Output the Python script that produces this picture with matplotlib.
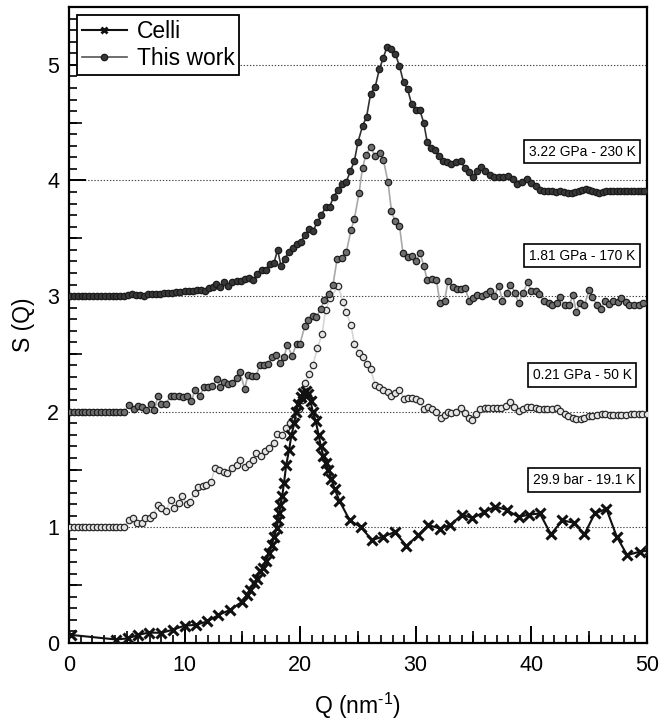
#!/usr/bin/env python3
"""
S(Q) von festem Wasserstoff: Celli-Daten und eigene Messungen,
vertikal um 1 versetzt (0.21 GPa, 1.81 GPa, 3.22 GPa).
"""

import numpy as np
import matplotlib
matplotlib.use('Agg')
import matplotlib.pyplot as plt
from matplotlib.ticker import MultipleLocator, NullLocator

plt.rcParams['font.family'] = ['Liberation Sans', 'DejaVu Sans']
plt.rcParams['mathtext.fontset'] = 'custom'
plt.rcParams['mathtext.rm'] = 'Liberation Sans'
plt.rcParams['mathtext.default'] = 'regular'

# --- Daten ---

# 3.22 GPa - 230 K (Offset 3)
q_322 = [0.1, 0.43, 0.77, 1.1, 1.43, 1.77, 2.1, 2.43, 2.77, 3.1, 3.43, 3.77, 4.1, 4.43, 4.77,
         5.1, 5.45, 5.8, 6.15, 6.5, 6.85, 7.2, 7.55, 7.9, 8.25, 8.6, 8.95, 9.3, 9.65, 10.0,
         10.35, 10.7, 11.05, 11.4, 11.75, 12.1, 12.45, 12.75, 13.1, 13.4, 13.8, 14.15, 14.5,
         14.85, 15.2, 15.6, 15.95, 16.3, 16.7, 17.05, 17.4, 17.75, 18.05, 18.35, 18.65, 19.0,
         19.35, 19.7, 20.05, 20.45, 20.8, 21.1, 21.5, 21.85, 22.2, 22.55, 22.9, 23.3, 23.65,
         24.0, 24.35, 24.7, 25.0, 25.4, 25.75, 26.1, 26.5, 26.85, 27.2, 27.5, 27.9, 28.25,
         28.6, 28.95, 29.3, 29.65, 30.0, 30.35, 30.7, 31.0, 31.35, 31.7, 32.05, 32.4, 32.75,
         33.1, 33.5, 33.9, 34.25, 34.6, 35.0, 35.3, 35.65, 36.0, 36.4, 36.8, 37.2, 37.6, 38.0,
         38.4, 38.8, 39.2, 39.6, 40.0, 40.4, 40.75, 41.1, 41.45, 41.8, 42.15, 42.5, 42.85,
         43.2, 43.5, 43.8, 44.1, 44.4, 44.7, 45.0, 45.3, 45.6, 45.9, 46.2, 46.5, 46.8, 47.1,
         47.4, 47.7, 48.0, 48.3, 48.6, 48.9, 49.2, 49.5, 49.8]
s_322 = [3.0, 3.0, 3.0, 3.0, 3.0, 3.0, 3.0, 3.0, 3.0, 3.0, 3.0, 3.0, 3.0, 3.0, 3.0,
         3.01, 3.015, 3.012, 3.008, 3.005, 3.015, 3.018, 3.02, 3.02, 3.025, 3.028, 3.03,
         3.035, 3.037, 3.04, 3.043, 3.048, 3.05, 3.05, 3.048, 3.066, 3.08, 3.107, 3.08, 3.12,
         3.09, 3.12, 3.13, 3.13, 3.145, 3.16, 3.14, 3.19, 3.23, 3.23, 3.28, 3.29, 3.40, 3.26,
         3.32, 3.38, 3.42, 3.45, 3.47, 3.53, 3.58, 3.56, 3.64, 3.70, 3.77, 3.77, 3.86, 3.92,
         3.97, 3.99, 4.08, 4.17, 4.33, 4.47, 4.55, 4.75, 4.81, 4.96, 5.06, 5.15, 5.14, 5.09,
         4.99, 4.85, 4.79, 4.66, 4.61, 4.61, 4.50, 4.33, 4.28, 4.26, 4.21, 4.17, 4.16,
         4.14, 4.16, 4.17, 4.11, 4.07, 4.03, 4.08, 4.12, 4.08, 4.05, 4.03, 4.03, 4.03, 4.04,
         4.01, 3.97, 3.99, 4.01, 3.98, 3.95, 3.92, 3.91, 3.91, 3.91, 3.90, 3.905, 3.90,
         3.89, 3.895, 3.90, 3.91, 3.92, 3.925, 3.92, 3.91, 3.90, 3.895, 3.90, 3.905, 3.91,
         3.91, 3.91, 3.91, 3.91, 3.91, 3.91, 3.91, 3.91, 3.91, 3.91]

# 1.81 GPa - 170 K (Offset 2)
q_181 = [0.1, 0.43, 0.77, 1.1, 1.43, 1.77, 2.1, 2.43, 2.77, 3.1, 3.43, 3.77, 4.1, 4.43, 4.77,
         5.2, 5.6, 6.0, 6.3, 6.7, 7.1, 7.4, 7.7, 8.0, 8.4, 8.8, 9.1, 9.5, 9.9, 10.2, 10.6,
         10.9, 11.3, 11.7, 12.0, 12.4, 12.8, 13.1, 13.4, 13.8, 14.1, 14.5, 14.8, 15.2, 15.5,
         15.8, 16.2, 16.5, 16.9, 17.2, 17.6, 17.9, 18.3, 18.6, 18.9, 19.3, 19.7, 20.0, 20.4,
         20.7, 21.1, 21.4, 21.8, 22.1, 22.5, 22.85, 23.2, 23.6, 24.0, 24.4, 24.7, 25.1, 25.4,
         25.7, 26.1, 26.5, 26.9, 27.2, 27.6, 27.9, 28.2, 28.6, 28.9, 29.3, 29.7, 30.0, 30.4,
         30.7, 31.0, 31.4, 31.8, 32.1, 32.5, 32.8, 33.2, 33.6, 33.9, 34.3, 34.6, 35.0, 35.3,
         35.7, 36.1, 36.4, 36.8, 37.2, 37.5, 37.9, 38.2, 38.6, 38.9, 39.3, 39.7, 40.0, 40.4,
         40.7, 41.1, 41.5, 41.8, 42.2, 42.5, 42.9, 43.3, 43.6, 43.9, 44.2, 44.6, 45.0, 45.3,
         45.7, 46.0, 46.4, 46.7, 47.1, 47.5, 47.8, 48.2, 48.5, 48.9, 49.3, 49.7]
s_181 = [2.0, 2.0, 2.0, 2.0, 2.0, 2.0, 2.0, 2.0, 2.0, 2.0, 2.0, 2.0, 2.0, 2.0, 2.0,
         2.055, 2.025, 2.05, 2.04, 2.015, 2.07, 2.015, 2.14, 2.07, 2.07, 2.14, 2.14, 2.14,
         2.13, 2.14, 2.09, 2.19, 2.14, 2.21, 2.21, 2.22, 2.28, 2.21, 2.26, 2.24, 2.25, 2.29,
         2.34, 2.20, 2.32, 2.31, 2.31, 2.40, 2.40, 2.41, 2.47, 2.49, 2.42, 2.47, 2.58, 2.48,
         2.59, 2.59, 2.74, 2.79, 2.83, 2.82, 2.89, 2.97, 3.02, 3.10, 3.32, 3.33, 3.38, 3.57,
         3.67, 3.89, 4.11, 4.22, 4.29, 4.21, 4.24, 4.18, 3.99, 3.74, 3.65, 3.61, 3.37, 3.34,
         3.35, 3.30, 3.37, 3.26, 3.14, 3.15, 3.14, 2.94, 2.96, 3.13, 3.08, 3.06, 3.06, 3.07,
         2.96, 2.98, 3.01, 3.00, 3.02, 3.04, 3.00, 3.09, 2.96, 3.03, 3.10, 3.03, 2.94, 3.03,
         3.12, 3.04, 3.04, 3.02, 2.96, 2.94, 2.92, 2.94, 2.99, 2.92, 2.92, 3.01, 2.86, 2.94,
         2.92, 3.05, 2.99, 2.92, 2.89, 2.96, 2.93, 2.96, 2.95, 2.98, 2.95, 2.92, 2.92, 2.92,
         2.94]

# 0.21 GPa - 50 K (Offset 1)
q_021 = [0.1, 0.43, 0.77, 1.1, 1.43, 1.77, 2.1, 2.43, 2.77, 3.1, 3.43, 3.77, 4.1, 4.43, 4.77,
         5.2, 5.5, 5.9, 6.3, 6.6, 7.0, 7.3, 7.7, 8.0, 8.4, 8.8, 9.1, 9.5, 9.8, 10.2, 10.5,
         10.9, 11.2, 11.6, 11.9, 12.3, 12.6, 13.0, 13.4, 13.7, 14.1, 14.5, 14.8, 15.2, 15.6,
         15.9, 16.2, 16.6, 17.0, 17.3, 17.7, 18.0, 18.4, 18.8, 19.1, 19.5, 19.9, 20.2, 20.45,
         20.8, 21.1, 21.5, 21.9, 22.2, 22.6, 23.3, 23.7, 24.0, 24.4, 24.7, 25.1, 25.4, 25.8,
         26.1, 26.5, 26.8, 27.2, 27.6, 27.9, 28.2, 28.6, 29.0, 29.3, 29.7, 30.0, 30.4, 30.7,
         31.1, 31.4, 31.8, 32.2, 32.5, 32.8, 33.1, 33.5, 33.9, 34.3, 34.6, 34.9, 35.2, 35.6,
         36.0, 36.3, 36.7, 37.0, 37.4, 37.8, 38.2, 38.5, 38.9, 39.3, 39.6, 40.0, 40.4, 40.7,
         41.1, 41.4, 41.8, 42.2, 42.5, 42.9, 43.2, 43.6, 43.9, 44.3, 44.6, 45.0, 45.3, 45.7,
         46.1, 46.4, 46.8, 47.1, 47.5, 47.8, 48.2, 48.6, 48.9, 49.3, 49.6, 50.0]
s_021 = [1.0, 1.0, 1.0, 1.0, 1.0, 1.0, 1.0, 1.0, 1.0, 1.0, 1.0, 1.0, 1.0, 1.0, 1.0,
         1.06, 1.085, 1.04, 1.04, 1.08, 1.08, 1.11, 1.19, 1.17, 1.14, 1.24, 1.17, 1.21, 1.27,
         1.20, 1.22, 1.30, 1.35, 1.36, 1.37, 1.39, 1.51, 1.50, 1.48, 1.47, 1.51, 1.54, 1.58,
         1.52, 1.55, 1.58, 1.64, 1.62, 1.66, 1.69, 1.73, 1.81, 1.80, 1.86, 1.90, 1.93, 2.02,
         2.10, 2.25, 2.33, 2.40, 2.55, 2.67, 2.88, 2.98, 3.09, 2.95, 2.86, 2.75, 2.59, 2.51,
         2.47, 2.41, 2.37, 2.23, 2.21, 2.19, 2.17, 2.14, 2.16, 2.19, 2.11, 2.12, 2.12, 2.11,
         2.09, 2.02, 2.04, 2.02, 2.00, 1.95, 1.97, 2.00, 1.99, 2.00, 2.03, 1.99, 1.95, 1.93,
         1.98, 2.02, 2.03, 2.03, 2.03, 2.03, 2.03, 2.05, 2.08, 2.04, 2.01, 2.02, 2.04, 2.04,
         2.03, 2.02, 2.02, 2.02, 2.02, 2.03, 2.01, 1.98, 1.96, 1.95, 1.94, 1.94, 1.95, 1.96,
         1.96, 1.97, 1.98, 1.98, 1.97, 1.97, 1.97, 1.97, 1.97, 1.98, 1.98, 1.98, 1.98, 1.98]

# Celli (kein Offset)
q_celli = [0.15, 4.1, 5.1, 6.0, 6.9, 8.0, 9.0, 10.0, 11.0, 11.95, 12.9, 13.9, 15.0, 15.4,
           15.7, 16.0, 16.25, 16.5, 16.75, 17.04, 17.3, 17.55, 17.75, 17.96, 18.1, 18.2,
           18.3, 18.45, 18.6, 18.8, 19.05, 19.25, 19.5, 19.65, 19.85, 20.05, 20.25, 20.5,
           20.7, 20.9, 21.1, 21.35, 21.6, 21.8, 22.0, 22.2, 22.45, 22.7, 23.0, 23.4, 24.3,
           25.3, 26.2, 27.2, 28.2, 29.2, 30.2, 31.1, 32.1, 33.0, 34.0, 34.9, 35.9, 36.9,
           37.9, 38.9, 39.8, 40.75, 41.7, 42.7, 43.7, 44.6, 45.5, 46.5, 47.4, 48.3, 49.4,
           50.3]
s_celli = [0.07, 0.03, 0.04, 0.07, 0.09, 0.088, 0.115, 0.15, 0.157, 0.186, 0.24, 0.285,
           0.357, 0.415, 0.46, 0.516, 0.55, 0.62, 0.647, 0.713, 0.777, 0.85, 0.92, 0.993,
           1.065, 1.12, 1.195, 1.27, 1.38, 1.54, 1.67, 1.80, 1.90, 2.00, 2.07, 2.13, 2.16,
           2.18, 2.15, 2.09, 2.00, 1.92, 1.80, 1.70, 1.62, 1.56, 1.50, 1.42, 1.33, 1.23,
           1.06, 1.00, 0.89, 0.92, 0.96, 0.84, 0.93, 1.02, 0.99, 1.02, 1.11, 1.08, 1.13,
           1.18, 1.15, 1.09, 1.11, 1.12, 0.94, 1.06, 1.04, 0.94, 1.12, 1.16, 0.92, 0.76,
           0.79, 0.80]

label_pos_q = [44.4, 44.4, 44.4, 44.6]
label_pos_s = [4.25, 3.35, 2.32, 1.41]
label_texts = ['3.22 GPa - 230 K', '1.81 GPa - 170 K', '0.21 GPa - 50 K', '29.9 bar - 19.1 K']


fig = plt.figure(figsize=(6.6, 7.24), dpi=100)
ax = fig.add_axes([0.1045, 0.1119, 0.8755, 0.8784])

# Hilfslinien bei ganzzahligen S-Werten
ax.yaxis.grid(True, linestyle=(0, (1.2, 1.6)), color='#444444', linewidth=0.8)
ax.set_axisbelow(True)

ax.plot(q_021, s_021, '-', color='#d6d6d6', linewidth=1.2, marker='o', markersize=4.6,
        markerfacecolor='#e4e4e4', markeredgecolor='#2a2a2a', markeredgewidth=0.9, zorder=3)
ax.plot(q_181, s_181, '-', color='#a8a8a8', linewidth=1.2, marker='o', markersize=4.6,
        markerfacecolor='#707070', markeredgecolor='#1e1e1e', markeredgewidth=0.9, zorder=4)
ax.plot(q_322, s_322, '-', color='#333333', linewidth=1.2, marker='o', markersize=4.6,
        markerfacecolor='#383838', markeredgecolor='#1a1a1a', markeredgewidth=0.9, zorder=5)
ax.plot(q_celli, s_celli, '-', color='#111111', linewidth=1.5, marker='x', markersize=7,
        markeredgewidth=2.2, markeredgecolor='#111111', zorder=6)

# Legende mit eigenen Handles
h_celli, = ax.plot([], [], '-', color='#111111', linewidth=1.5, marker='x', markersize=5,
                   markeredgewidth=2.0)
h_work, = ax.plot([], [], '-', color='#555555', linewidth=1.2, marker='o', markersize=4.6,
                  markerfacecolor='#383838', markeredgecolor='#1a1a1a', markeredgewidth=0.9)
leg = ax.legend([h_celli, h_work], ['Celli', 'This work'], loc='upper left', fontsize=16.5,
                fancybox=False, edgecolor='black', framealpha=1, handlelength=2.0,
                handletextpad=0.4, labelspacing=0.2, borderpad=0.2, borderaxespad=0.35)
leg.get_frame().set_linewidth(1.3)
leg.set_zorder(10)

for q, s, txt in zip(label_pos_q, label_pos_s, label_texts):
    ax.text(q, s, txt, ha='center', va='center', fontsize=9.9, zorder=11,
            bbox=dict(boxstyle='square,pad=0.35', facecolor='white', edgecolor='black',
                      linewidth=1.2))

ax.set_xlim(0, 50)
ax.set_ylim(0, 5.5)

ax.xaxis.set_major_locator(MultipleLocator(10))
ax.xaxis.set_minor_locator(MultipleLocator(1))
ax.yaxis.set_major_locator(MultipleLocator(1))
ax.yaxis.set_minor_locator(MultipleLocator(0.1))
ax.tick_params(which='major', direction='in', length=12.5, width=1.4, labelsize=15.5,
               top=False, right=False, pad=7)
ax.tick_params(axis='x', which='major', pad=9)
ax.tick_params(which='minor', direction='in', length=6, width=1.2, top=False, right=False)

# mittlere Striche bei 5er bzw. 0.5er Werten
secx = ax.secondary_xaxis('bottom')
secx.set_xticks(np.arange(5, 50, 10))
secx.xaxis.set_minor_locator(NullLocator())
secx.tick_params(direction='in', length=9, width=1.2, labelbottom=False)
secx.spines['bottom'].set_visible(False)

secy = ax.secondary_yaxis('left')
secy.set_yticks(np.arange(0.5, 5.5, 1.0))
secy.yaxis.set_minor_locator(NullLocator())
secy.tick_params(direction='in', length=9, width=1.2, labelleft=False)
secy.spines['left'].set_visible(False)

for sp in ax.spines.values():
    sp.set_linewidth(1.6)

ax.set_xlabel('Q (nm$^{\u20101}$)', fontsize=16.5, labelpad=10)
ax.set_ylabel('S (Q)', fontsize=16.5, labelpad=9)

fig.savefig('out.png', dpi=100)
